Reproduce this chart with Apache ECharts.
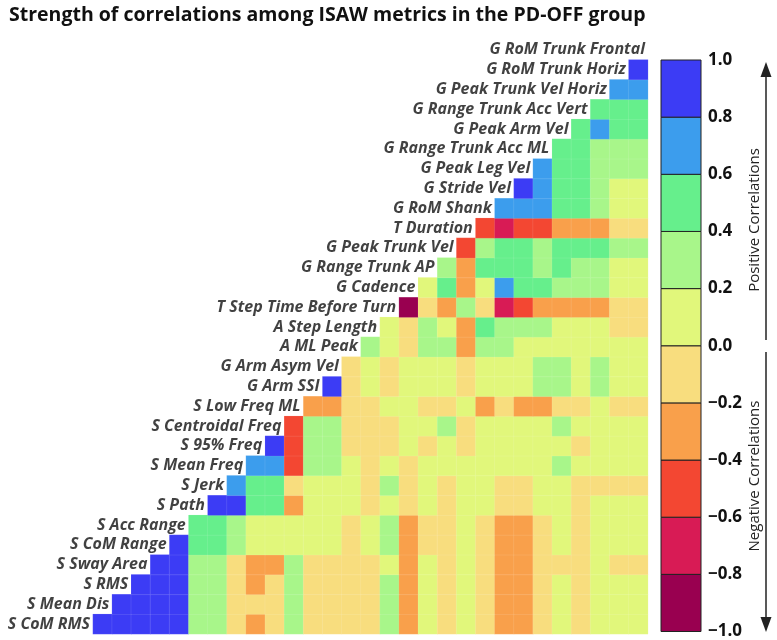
<!DOCTYPE html>
<html>
<head>
<meta charset="utf-8">
<title>ISAW correlations PD-OFF</title>
<script src="https://cdn.jsdelivr.net/npm/echarts@6/dist/echarts.min.js"></script>
<style>
  html, body { margin: 0; padding: 0; background: #fff; }
  #main { width: 777px; height: 640px; }
</style>
</head>
<body>
<div id="main"></div>
<script>
// metric names, bottom row first
const labels = [
  'S CoM RMS', 'S Mean Dis', 'S RMS', 'S Sway Area', 'S CoM Range', 'S Acc Range',
  'S Path', 'S Jerk', 'S Mean Freq', 'S 95% Freq', 'S Centroidal Freq', 'S Low Freq ML',
  'G Arm SSI', 'G Arm Asym Vel', 'A ML Peak', 'A Step Length', 'T Step Time Before Turn',
  'G Cadence', 'G Range Trunk AP', 'G Peak Trunk Vel', 'T Duration', 'G RoM Shank',
  'G Stride Vel', 'G Peak Leg Vel', 'G Range Trunk Acc ML', 'G Peak Arm Vel',
  'G Range Trunk Acc Vert', 'G Peak Trunk Vel Horiz', 'G RoM Trunk Horiz', 'G RoM Trunk Frontal'
];

// row i: correlation of metric i with metrics i+1 .. 30
const r01 = [.9, .9, .9, .9, .9, .3, .3, -.1, -.3, -.1, .3, -.1, -.1, -.1, -.1, .3, -.3, .1, -.1, .1, -.1, -.3, -.3, -.1, .1, -.1, .1, .1, .1];
const r02 = [.9, .9, .9, .9, .3, .3, -.1, -.1, -.1, .3, -.1, -.1, -.1, -.1, .3, -.3, .1, -.1, .1, -.1, -.3, -.3, -.1, .1, -.1, .1, .1, .1];
const r03 = [.9, .9, .9, .3, .3, -.1, -.3, -.1, .3, -.1, -.1, -.1, -.1, .3, -.3, .1, -.1, .1, -.1, -.3, -.3, -.1, .1, -.1, .1, .1, .1];
const r04 = [.9, .9, .3, .3, -.1, -.3, -.3, .3, -.1, -.1, -.1, -.1, .1, -.3, .1, -.1, .1, -.1, -.3, -.3, -.1, -.1, -.1, .1, -.1, -.1];
const r05 = [.9, .5, .5, .3, .1, .1, .1, .1, .1, -.1, .1, .3, -.3, -.1, -.1, .1, -.1, -.3, -.3, -.1, .1, -.1, .1, .1, .1];
const r06 = [.5, .5, .3, .1, .1, .1, .1, .1, -.1, .1, .3, -.3, -.1, -.1, .1, -.1, -.3, -.3, -.1, .1, -.1, .1, .1, .1];
const r07 = [.9, .9, .5, .5, -.3, .1, .1, .1, -.1, .1, -.1, .1, -.1, .1, .1, -.1, -.1, .1, .1, -.1, .1, .1, .1];
const r08 = [.7, .5, .5, -.1, .1, .1, .1, -.1, .3, -.1, .1, -.1, .1, .1, -.1, -.1, .1, .1, -.1, -.1, -.1, -.1];
const r09 = [.7, .7, -.5, .3, .3, .1, -.1, .1, -.1, .1, .1, .1, .1, .1, .1, .1, .3, .1, .1, .1, .1];
const r10 = [.9, -.5, .3, .3, -.1, -.1, -.1, .1, -.1, .1, -.1, .1, .1, .1, .1, .1, -.1, .1, .1, .1];
const r11 = [-.5, .3, .3, -.1, -.1, -.1, .1, .1, .3, -.1, .1, .1, .1, .1, .3, .1, .1, .1, .1];
const r12 = [-.3, -.3, -.1, -.1, .1, .1, -.1, -.1, .1, -.3, -.1, -.3, -.3, -.1, -.1, .1, -.1, -.1];
const r13 = [.9, -.1, .1, -.1, .1, .1, .1, -.1, .1, .1, .1, .3, .3, .1, .3, .1, .1];
const r14 = [-.1, .1, -.1, .1, .1, .1, -.1, .1, .1, .1, .3, .3, .1, .3, .1, .1];
const r15 = [.3, .1, -.1, .3, .3, -.3, .3, .3, .1, .1, .1, .1, .1, .1, .1];
const r16 = [.1, -.1, .3, .1, -.3, .5, .3, .3, .3, .1, .1, .1, -.1, -.1];
const r17 = [-.9, -.1, -.3, .3, -.1, -.7, -.5, -.3, -.3, -.3, -.3, -.1, -.1];
const r18 = [.1, .5, -.3, .1, .7, .5, .5, .3, .3, .3, .1, .1];
const r19 = [.3, -.3, .5, .5, .5, .3, .5, .3, .3, .1, .1];
const r20 = [-.5, .3, .5, .5, .3, .5, .5, .5, .3, .3];
const r21 = [-.5, -.7, -.5, -.5, -.3, -.3, -.3, -.1, -.1];
const r22 = [.7, .7, .7, .5, .5, .3, .1, .1];
const r23 = [.9, .7, .5, .5, .3, .1, .1];
const r24 = [.7, .5, .5, .3, .3, .3];
const r25 = [.5, .5, .3, .3, .3];
const r26 = [.5, .7, .5, .5];
const r27 = [.5, .5, .5];
const r28 = [.7, .7];
const r29 = [.9];

const corrRows = [r01, r02, r03, r04, r05, r06, r07, r08, r09, r10, r11, r12, r13, r14, r15,
  r16, r17, r18, r19, r20, r21, r22, r23, r24, r25, r26, r27, r28, r29];

// colour scale, low to high
const binEdges = [-1, -0.8, -0.6, -0.4, -0.2, 0, 0.2, 0.4, 0.6, 0.8, 1];
const binColors = ['#990050', '#d81b55', '#f34732', '#f9a04b', '#f8dd7e',
  '#e1f77b', '#a8f68a', '#66ef8c', '#3c9ded', '#3c3cf5'];

const FONT = '"Open Sans"';

const heatData = [];
corrRows.forEach(function (row, i) {
  row.forEach(function (v, k) {
    heatData.push([i + k, i, v]);
  });
});

const labelData = labels.map(function (name, i) { return [i, i, name]; });
const colNames = labels.map(function (n, i) { return 'c' + (i + 1); });

const pieces = binColors.map(function (c, i) {
  return { gte: binEdges[i], lt: binEdges[i + 1], color: c };
});
const barData = binColors.map(function (c, i) { return [binEdges[i], binEdges[i + 1]]; });

const chart = echarts.init(document.getElementById('main'));
const option = {
  animation: false,
  title: {
    text: 'Strength of correlations among ISAW metrics in the PD-OFF group',
    left: 4,
    top: 0,
    textStyle: { fontFamily: FONT, fontSize: 19.5, fontWeight: 'bold', color: '#111' }
  },
  grid: [
    { left: 93, top: 40, width: 574, height: 594 },
    { left: 661, top: 60, width: 40, height: 572 }
  ],
  xAxis: [
    { type: 'category', gridIndex: 0, data: colNames, show: false },
    { type: 'value', gridIndex: 1, min: 0, max: 1, show: false }
  ],
  yAxis: [
    { type: 'category', gridIndex: 0, data: labels, show: false },
    {
      type: 'value', gridIndex: 1, min: -1, max: 1, interval: 0.2, position: 'right',
      axisLine: { show: false }, axisTick: { show: false }, splitLine: { show: false },
      axisLabel: {
        margin: 7, fontFamily: FONT, fontSize: 17, fontWeight: 'bold', color: '#111',
        formatter: function (v) {
          if (Math.abs(v) < 1e-9) return '0.0';
          return v < 0 ? '\u2212' + (-v).toFixed(1) : v.toFixed(1);
        }
      }
    }
  ],
  visualMap: {
    type: 'piecewise',
    show: false,
    seriesIndex: 0,
    dimension: 2,
    pieces: pieces
  },
  series: [
    {
      type: 'heatmap',
      data: heatData,
      itemStyle: { borderColor: 'rgba(255,255,255,0.2)', borderWidth: 0.5 }
    },
    {
      type: 'scatter',
      data: labelData,
      symbolSize: 1,
      itemStyle: { color: 'rgba(0,0,0,0)' },
      silent: true,
      label: {
        show: true,
        position: 'left',
        distance: 12,
        formatter: function (p) { return p.data[2]; },
        fontFamily: FONT,
        fontSize: 16,
        fontWeight: 'bold',
        fontStyle: 'italic',
        color: '#111'
      }
    },
    {
      type: 'custom',
      xAxisIndex: 1,
      yAxisIndex: 1,
      data: barData,
      silent: true,
      renderItem: function (params, api) {
        const p0 = api.coord([0, api.value(1)]);
        const p1 = api.coord([1, api.value(0)]);
        return {
          type: 'rect',
          shape: { x: p0[0], y: p0[1], width: p1[0] - p0[0], height: p1[1] - p0[1] },
          style: { fill: binColors[params.dataIndex], stroke: '#222', lineWidth: 1 }
        };
      }
    }
  ],
  graphic: [
    { type: 'line', shape: { x1: 766, y1: 74, x2: 766, y2: 340 }, style: { stroke: '#222', lineWidth: 1.5 } },
    { type: 'polygon', shape: { points: [[766, 62], [760.5, 77], [771.5, 77]] }, style: { fill: '#222' } },
    { type: 'line', shape: { x1: 766, y1: 352, x2: 766, y2: 620 }, style: { stroke: '#222', lineWidth: 1.5 } },
    { type: 'polygon', shape: { points: [[766, 632], [760.5, 617], [771.5, 617]] }, style: { fill: '#222' } },
    {
      type: 'text', x: 755, y: 220, rotation: Math.PI / 2,
      style: { text: 'Positive Correlations', font: '15px "Open Sans"', fill: '#222', align: 'center', verticalAlign: 'middle' }
    },
    {
      type: 'text', x: 755, y: 476, rotation: Math.PI / 2,
      style: { text: 'Negative Correlations', font: '15px "Open Sans"', fill: '#222', align: 'center', verticalAlign: 'middle' }
    }
  ]
};
chart.setOption(option);

window.addEventListener('resize', function () {
  chart.resize();
});
</script>
</body>
</html>
